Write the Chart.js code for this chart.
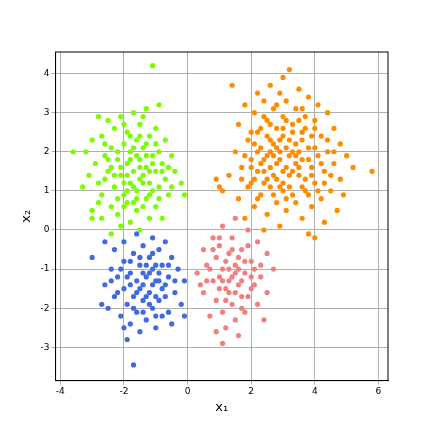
<!DOCTYPE html>
<html>
<head>
<meta charset="utf-8">
<script src="https://cdn.jsdelivr.net/npm/chart.js@4"></script>
<style>body{margin:0;background:#fff}</style>
</head>
<body>
<canvas id="myChart" width="432" height="432"></canvas>
<script>
'use strict';
const xTicks = [-4, -2, 0, 2, 4, 6];
const yTicks = [-3, -2, -1, 0, 1, 2, 3, 4];

const greenPts = [[-1.1,4.2],[-0.9,3.2],[-1.3,3.1],[-1.7,3.0],[-2.1,2.9],[-2.5,2.8],[-2.8,2.9],[-1.5,2.7],[-1.0,2.6],[-2.3,2.6],[-1.9,2.5],[-1.2,2.4],[-0.7,2.3],[-2.7,2.4],[-3.0,2.3],[-1.6,2.3],[-2.0,2.2],[-1.4,2.1],[-0.9,2.0],[-2.4,2.1],[-3.2,2.0],[-3.6,2.0],[-1.8,2.0],[-1.1,1.9],[-2.6,1.9],[-0.5,1.9],[-2.2,1.8],[-1.5,1.8],[-1.9,1.7],[-0.8,1.7],[-2.9,1.7],[-1.3,1.6],[-2.4,1.6],[-1.7,1.5],[-1.0,1.5],[-0.4,1.5],[-2.1,1.4],[-3.1,1.4],[-1.4,1.4],[-2.6,1.3],[-0.7,1.3],[-1.8,1.2],[-1.2,1.2],[-2.3,1.1],[-0.9,1.1],[-3.3,1.1],[-1.6,1.0],[-2.0,0.9],[-0.6,0.9],[-2.7,0.9],[-1.3,0.8],[-1.9,0.7],[-2.4,0.6],[-1.0,0.6],[-3.0,0.5],[-1.6,0.5],[-2.2,0.4],[-1.2,0.3],[-2.7,0.3],[-0.8,0.3],[-1.8,0.2],[-2.1,0.1],[-1.5,0.0],[-2.4,-0.1],[-3.0,0.3],[-0.2,1.2],[-0.1,0.9],[-1.4,2.9],[-2.0,2.7],[-1.7,1.1],[-2.5,1.5],[-1.1,1.0],[-2.8,1.2],[-2.0,0.6],[-1.5,1.3],
  [-1.6,1.9],[-1.3,1.9],[-1.9,1.4],[-1.2,1.5],[-1.5,1.6],[-1.8,1.8],[-2.1,1.6],[-1.4,1.2],[-1.7,2.1],[-1.1,1.7],[-2.0,1.2],[-1.6,0.8],[-1.3,2.2],[-2.2,2.0],[-0.8,1.5],[-1.9,1.0],[-1.0,2.2],[-2.5,1.8],[-1.2,0.9],[-1.7,0.7],[-2.3,1.4],[-0.6,1.6],[-1.4,0.6],[-2.6,2.2],[-0.9,0.8],[-1.8,2.4],[-2.2,0.8],[-1.5,2.4],[-0.5,1.1],[-2.8,0.7]];

const orangePts = [[3.2,4.1],[3.0,3.9],[2.6,3.7],[1.4,3.7],[3.5,3.6],[2.2,3.5],[2.9,3.5],[3.8,3.4],[2.4,3.3],[3.1,3.3],[4.1,3.2],[1.8,3.2],[2.7,3.1],[3.4,3.1],[4.4,3.0],[2.1,3.0],[3.0,2.9],[3.7,2.9],[2.5,2.8],[4.0,2.8],[1.6,2.7],[3.3,2.7],[2.8,2.6],[4.6,2.6],[2.2,2.5],[3.6,2.5],[3.0,2.4],[4.2,2.4],[1.9,2.3],[2.6,2.3],[3.4,2.2],[4.8,2.2],[2.3,2.1],[3.8,2.1],[2.9,2.0],[4.4,2.0],[1.5,2.0],[3.2,1.9],[2.5,1.9],[4.1,1.9],[5.0,1.9],[2.0,1.8],[3.6,1.8],[2.8,1.7],[4.6,1.7],[1.7,1.6],[3.1,1.6],[3.9,1.6],[2.4,1.5],[4.3,1.5],[5.8,1.5],[1.3,1.4],[2.7,1.4],[3.5,1.4],[4.8,1.3],[2.1,1.3],[3.0,1.2],[4.0,1.2],[1.9,1.1],[2.6,1.1],[3.7,1.0],[4.5,1.0],[1.1,1.0],[2.3,0.9],[3.3,0.9],[4.2,0.8],[1.6,0.8],[2.8,0.7],[3.9,0.6],[2.1,0.6],[4.7,0.5],[3.1,0.5],[2.5,0.4],[3.6,0.3],[1.8,0.3],[4.3,0.2],[2.9,0.1],[3.8,-0.1],[4.0,-0.2],[2.4,0.0],[3.4,1.7],[2.2,2.0],[3.9,2.4],[2.6,1.6],[3.3,2.5],[2.0,1.2],[4.5,1.4],[3.0,1.0],[2.7,2.2],[3.5,2.0],[1.0,1.1],[0.9,1.3],[5.2,1.6],[4.9,0.9],[2.3,1.7],[3.2,1.4],[3.7,1.3],
  [2.9,1.8],[3.1,2.1],[2.7,1.9],[3.3,1.5],[2.5,2.4],[3.6,2.3],[2.8,1.3],[3.4,1.9],[2.4,1.8],[3.0,2.6],[3.8,1.8],[2.2,1.5],[3.2,1.1],[2.6,2.0],[4.0,2.1],[3.5,1.6],[2.9,2.3],[2.1,2.2],[3.7,2.6],[2.7,0.9],[3.3,2.0],[4.2,1.7],[2.4,1.2],[3.1,2.8],[2.0,1.6],[3.6,1.1],[2.8,2.1],[4.4,2.3],[3.0,1.5],[2.3,2.6],[3.9,1.4],[2.6,2.7],[3.4,0.7],[4.1,1.0],[1.8,1.9],[3.2,2.3],[2.5,1.3],[3.5,2.8],[2.9,1.1],[4.3,1.2],[2.2,0.8],[3.8,0.9],[2.0,2.5],[3.1,0.8],[4.6,2.0],[1.7,1.3],[3.6,3.1],[2.8,3.2],[4.0,2.6],[2.4,2.9]];

const bluePts = [[-1.6,-0.1],[-1.1,-0.2],[-2.0,-0.3],[-0.7,-0.3],[-2.6,-0.3],[-1.4,-0.4],[-2.3,-0.5],[-0.9,-0.5],[-1.7,-0.6],[-1.2,-0.7],[-0.5,-0.7],[-3.0,-0.7],[-2.0,-0.8],[-1.5,-0.9],[-0.8,-0.9],[-2.4,-1.0],[-1.1,-1.0],[-0.3,-1.0],[-1.8,-1.1],[-1.3,-1.2],[-0.6,-1.2],[-2.2,-1.2],[-1.0,-1.3],[-1.6,-1.3],[-0.1,-1.3],[-2.6,-1.4],[-1.4,-1.4],[-0.8,-1.5],[-2.0,-1.5],[-1.2,-1.6],[-0.4,-1.6],[-1.7,-1.7],[-2.3,-1.7],[-0.9,-1.8],[-1.4,-1.8],[-0.2,-1.9],[-1.9,-1.9],[-2.5,-2.0],[-1.1,-2.0],[-0.6,-2.1],[-1.6,-2.1],[-2.1,-2.2],[-0.8,-2.2],[-1.3,-2.3],[-0.1,-2.2],[-1.8,-2.4],[-0.5,-2.4],[-1.0,-2.5],[-1.5,-2.6],[-2.0,-2.5],[-1.9,-2.8],[-1.7,-3.45],[-1.2,-1.1],[-1.5,-1.5],[-0.9,-1.1],[-1.8,-1.4],[-1.0,-1.7],[-2.7,-1.9],[-1.3,-0.9],[-0.7,-1.4],
  [-1.4,-1.1],[-1.1,-1.4],[-1.6,-1.6],[-1.2,-1.9],[-0.9,-1.3],[-1.9,-1.2],[-1.5,-0.7],[-1.0,-0.9],[-2.1,-1.0],[-1.3,-1.7],[-0.7,-1.7],[-1.7,-2.0],[-2.2,-1.6],[-1.1,-0.6],[-0.6,-0.9],[-1.8,-0.8],[-1.4,-2.1],[-0.4,-1.3],[-2.4,-1.3],[-1.0,-2.2]];

const pinkPts = [[1.5,0.3],[1.1,0.1],[1.9,0.0],[0.8,-0.2],[1.4,-0.2],[2.2,-0.3],[1.0,-0.4],[1.7,-0.5],[0.5,-0.5],[2.5,-0.6],[1.3,-0.6],[0.9,-0.7],[2.0,-0.8],[1.5,-0.9],[0.6,-0.9],[2.7,-1.0],[1.1,-1.0],[1.8,-1.1],[0.3,-1.1],[1.4,-1.2],[2.3,-1.2],[0.8,-1.3],[1.6,-1.4],[2.0,-1.5],[1.2,-1.5],[0.5,-1.6],[2.5,-1.6],[1.7,-1.7],[0.9,-1.8],[1.4,-1.9],[2.2,-1.9],[1.1,-2.1],[1.8,-2.1],[0.7,-2.2],[1.5,-2.3],[2.4,-2.3],[1.2,-2.5],[0.9,-2.6],[1.6,-2.7],[1.1,-2.9],[1.3,-1.0],[1.0,-1.2],[1.9,-0.4],[0.4,-1.4],[2.1,-1.0],[1.6,-0.7],[1.3,-1.6],
  [1.2,-0.8],[1.5,-1.1],[1.7,-1.3],[1.0,-1.5],[1.4,-0.5],[1.8,-0.8],[1.1,-1.3],[1.6,-1.0],[0.7,-1.0],[2.0,-1.2],[1.3,-1.3],[1.9,-1.7],[0.8,-0.5],[1.2,-1.8],[2.3,-0.9],[1.5,-1.6],[0.6,-1.3],[1.7,-2.0],[1.0,-0.2],[2.1,-1.4]];

function toXY(pts) {
  return pts.map(p => ({x: p[0], y: p[1]}));
}

function ds(pts, color) {
  return {data: toXY(pts), backgroundColor: color, borderWidth: 0, pointRadius: 2.6};
}

const frame = {
  id: 'frame',
  afterDraw(chart) {
    const a = chart.chartArea;
    const c = chart.ctx;
    c.save();
    c.strokeStyle = '#000';
    c.lineWidth = 1;
    c.strokeRect(a.left, a.top, a.right - a.left, a.bottom - a.top);
    c.restore();
  }
};

const ctx = document.getElementById('myChart').getContext('2d');
new Chart(ctx, {
  type: 'scatter',
  data: {
    datasets: [
      ds(greenPts, '#7cfc00'),
      ds(orangePts, '#ff8c00'),
      ds(bluePts, '#4169e1'),
      ds(pinkPts, '#f08080')
    ]
  },
  options: {
    responsive: false,
    animation: false,
    layout: {padding: {left: 15, right: 44, top: 52, bottom: 17}},
    plugins: {legend: {display: false}, tooltip: {enabled: false}},
    scales: {
      x: {
        min: -4.15, max: 6.3,
        afterBuildTicks: axis => { axis.ticks = xTicks.map(v => ({value: v})); },
        grid: {color: '#b0b0b0', tickLength: 4},
        border: {color: '#000'},
        ticks: {color: '#000', font: {family: 'DejaVu Sans', size: 9}, padding: 2},
        title: {display: true, text: 'x\u2081', color: '#000', font: {family: 'DejaVu Sans', size: 13}, padding: 0}
      },
      y: {
        min: -3.85, max: 4.55,
        afterBuildTicks: axis => { axis.ticks = yTicks.map(v => ({value: v})); },
        grid: {color: '#b0b0b0', tickLength: 4},
        border: {color: '#000'},
        ticks: {color: '#000', font: {family: 'DejaVu Sans', size: 9}, padding: 2},
        title: {display: true, text: 'x\u2082', color: '#000', font: {family: 'DejaVu Sans', size: 13}, padding: 4}
      }
    }
  },
  plugins: [frame]
});
</script>
</body>
</html>
